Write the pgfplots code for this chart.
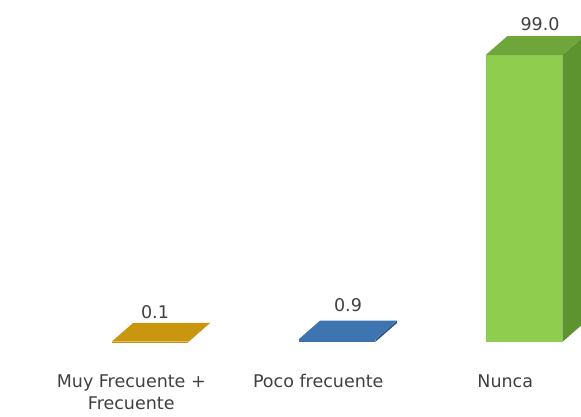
\documentclass[border=0pt]{standalone}
\usepackage{pgfplots}
\pgfplotsset{compat=1.18}
\usepackage{fontspec}
\setmainfont{DejaVu Sans}
\usetikzlibrary{calc}
\definecolor{goldfront}{HTML}{C8960C}
\definecolor{goldtop}{HTML}{C9960E}
\definecolor{bluefront}{HTML}{3C72AE}
\definecolor{bluetop}{HTML}{3E74B0}
\definecolor{greenfront}{HTML}{8FCD4E}
\definecolor{greentop}{HTML}{6EA63A}
\definecolor{greenside}{HTML}{5E9430}
\definecolor{labelgray}{HTML}{404040}
\begin{document}
\begin{tikzpicture}
\begin{axis}[
  scale only axis, width=541pt, height=342pt,
  xmin=-0.588, xmax=2.305, ymin=0, ymax=118,
  axis line style={draw=none},
  ytick=\empty,
  xtick={-0.1,0.9,1.9},
  xticklabels={{Muy Frecuente +\\Frecuente},{Poco frecuente},{Nunca}},
  major tick length=0pt,
  xticklabel style={align=center, font=\fontsize{17.5}{22}\selectfont, text=labelgray, anchor=north, yshift=-29pt},
  /pgf/number format/assume math mode=true,
]
% front faces
\addplot[ybar, bar width=0.41, bar shift=0pt, fill=goldfront, draw=none] coordinates {(0,0.1)};
\addplot[ybar, bar width=0.41, bar shift=0pt, fill=bluefront, draw=none] coordinates {(1,0.9)};
\addplot[ybar, bar width=0.41, bar shift=0pt, fill=greenfront, draw=none] coordinates {(2,99.0)};
% side faces
\addplot[fill=goldfront!80!black, draw=none] coordinates {(0.205,0) (0.205,0.1) (0.32,6.6) (0.32,6.5)};
\addplot[fill=bluefront!80!black, draw=none] coordinates {(1.205,0) (1.205,0.9) (1.32,7.4) (1.32,6.5)};
\addplot[fill=greenside, draw=none] coordinates {(2.205,0) (2.205,99.0) (2.32,105.5) (2.32,6.5)};
% top faces
\addplot[fill=goldtop, draw=none] coordinates {(-0.205,0.1) (0.205,0.1) (0.32,6.6) (-0.09,6.6)};
\addplot[fill=bluetop, draw=none] coordinates {(0.795,0.9) (1.205,0.9) (1.32,7.4) (0.91,7.4)};
\addplot[fill=greentop, draw=none] coordinates {(1.795,99.0) (2.205,99.0) (2.32,105.5) (1.91,105.5)};
% value labels
\node[font=\fontsize{17.5}{20}\selectfont, text=labelgray] at (axis cs:0.027,10.3) {0.1};
\node[font=\fontsize{17.5}{20}\selectfont, text=labelgray] at (axis cs:1.059,12.8) {0.9};
\node[font=\fontsize{17.5}{20}\selectfont, text=labelgray] at (axis cs:2.086,109.7) {99.0};
\node[rotate=90, font=\fontsize{17.5}{20}\selectfont, text=labelgray] at (axis description cs:-0.0425,0.386) {\%};
\end{axis}
\pgfresetboundingbox
\useasboundingbox ($(current axis.south west)+(-40pt,-74pt)$) rectangle (current axis.north east);
\end{tikzpicture}
\end{document}
